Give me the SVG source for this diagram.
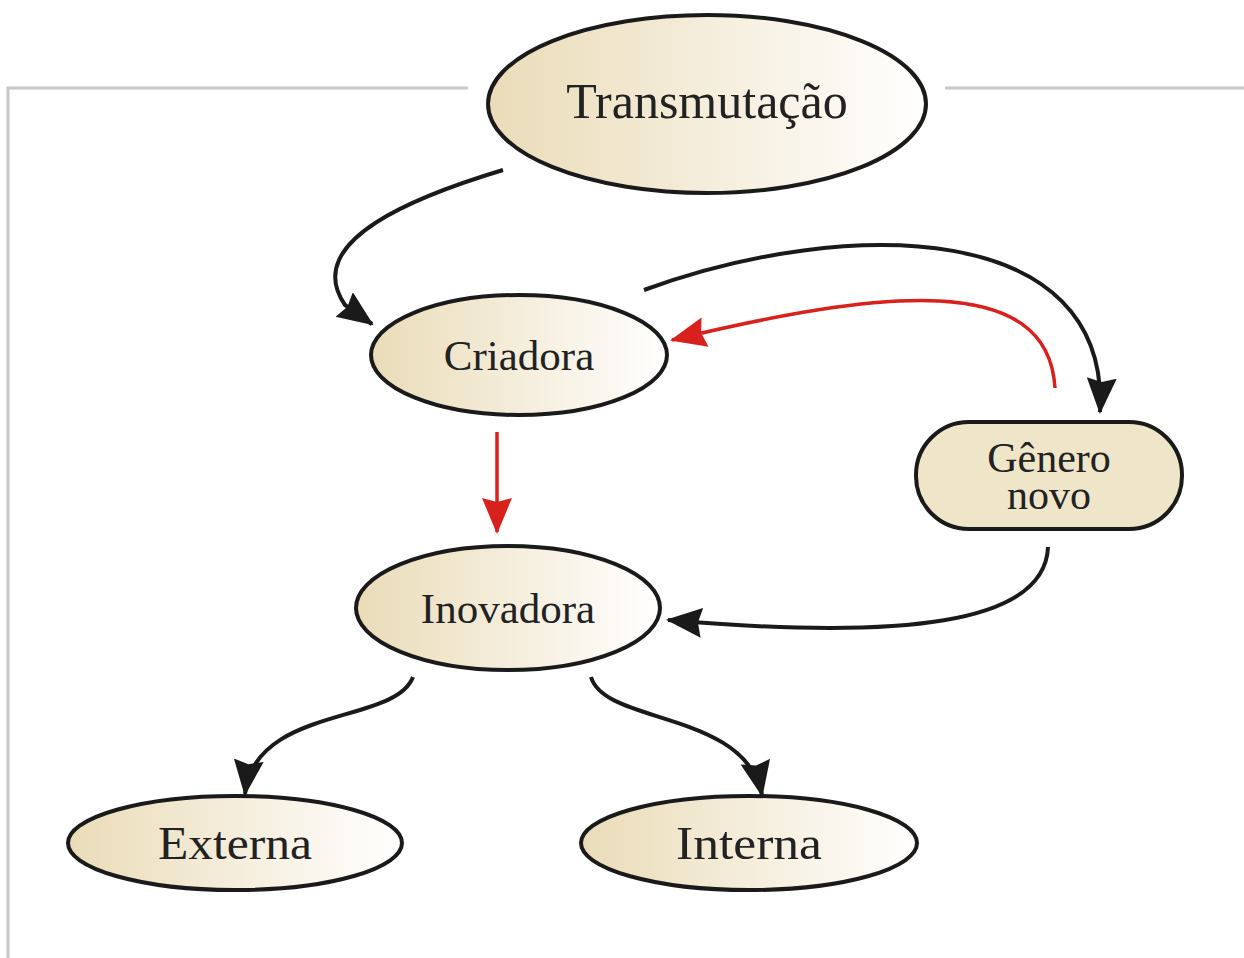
<svg xmlns="http://www.w3.org/2000/svg" width="1244" height="958" viewBox="0 0 1244 958">
<defs>
<linearGradient id="g" x1="0" y1="0" x2="1" y2="0">
<stop offset="0" stop-color="#eadcb8"/>
<stop offset="0.55" stop-color="#f6efdf"/>
<stop offset="1" stop-color="#ffffff"/>
</linearGradient>
<marker id="ab" markerUnits="userSpaceOnUse" markerWidth="40" markerHeight="34" refX="34" refY="15" orient="auto">
<path d="M0,0 L36,15 L0,30 L4,15 Z" fill="#1a1a1a"/>
</marker>
<marker id="ar" markerUnits="userSpaceOnUse" markerWidth="40" markerHeight="34" refX="34" refY="15" orient="auto">
<path d="M0,0 L36,15 L0,30 L4,15 Z" fill="#d8201c"/>
</marker>
</defs>
<style>
.n{fill:url(#g);stroke:#1a1a1a;stroke-width:4}
.t{font-family:"Liberation Serif","DejaVu Serif",serif;fill:#222;text-anchor:middle}
.c{fill:none;stroke:#1a1a1a;stroke-width:4}
.r{fill:none;stroke:#d8201c;stroke-width:3.5}
.f{fill:none;stroke:#c8c8c8;stroke-width:3}
</style>
<rect width="1244" height="958" fill="#fff"/>
<g id="frame">
<path class="f" d="M8,958 L8,88 L468,88"/>
<path class="f" d="M945,88 L1244,88"/>
</g>
<g id="connectors">
<path class="c" d="M503,170 C420,195 300,240 345,305 L372,324" marker-end="url(#ab)"/>
<path class="c" d="M644,290 C850,215 1110,220 1100,412" marker-end="url(#ab)"/>
<path class="r" d="M1055,388 C1048,270 880,290 672,340" marker-end="url(#ar)"/>
<path class="r" d="M497,432 L497,532" marker-end="url(#ar)"/>
<path class="c" d="M1048,547 C1045,625 900,640 668,620" marker-end="url(#ab)"/>
<path class="c" d="M413,677 C395,725 255,705 245,794" marker-end="url(#ab)"/>
<path class="c" d="M591,677 C605,725 745,710 762,795" marker-end="url(#ab)"/>
</g>
<g id="transmutacao">
<ellipse class="n" cx="707" cy="104" rx="219" ry="89"/>
<text class="t" x="707" y="118" font-size="50">Transmutação</text>
</g>
<g id="criadora">
<ellipse class="n" cx="519" cy="355" rx="148" ry="60"/>
<text class="t" x="519" y="370" font-size="43">Criadora</text>
</g>
<g id="genero">
<rect x="916" y="422" width="266" height="107" rx="53" ry="53" fill="#efe5c9" stroke="#1a1a1a" stroke-width="4"/>
<text class="t" x="1049" y="472" font-size="42">Gênero</text>
<text class="t" x="1049" y="509" font-size="42">novo</text>
</g>
<g id="inovadora">
<ellipse class="n" cx="508" cy="608" rx="152" ry="62"/>
<text class="t" x="508" y="623" font-size="43">Inovadora</text>
</g>
<g id="externa">
<ellipse class="n" cx="235" cy="843" rx="167" ry="47"/>
<text class="t" x="235" y="859" font-size="46" textLength="154" lengthAdjust="spacingAndGlyphs">Externa</text>
</g>
<g id="interna">
<ellipse class="n" cx="749" cy="843" rx="168" ry="47"/>
<text class="t" x="749" y="859" font-size="46" textLength="146" lengthAdjust="spacingAndGlyphs">Interna</text>
</g>
</svg>
